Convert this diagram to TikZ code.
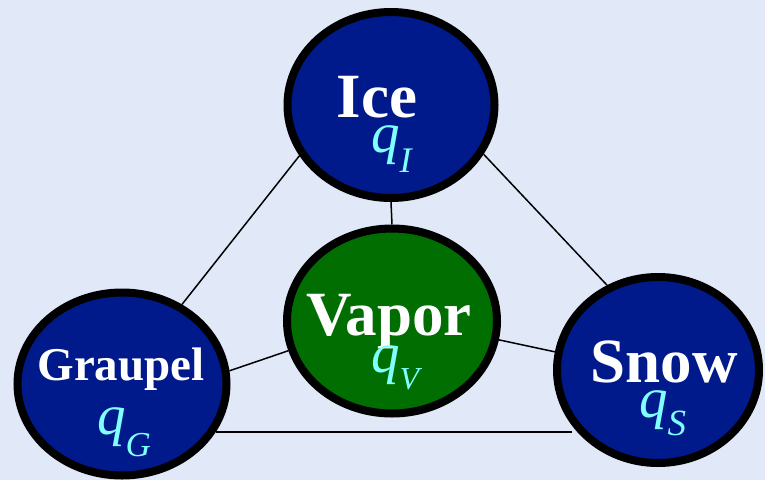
\documentclass[tikz,border=0pt]{standalone}
\usepackage{fontspec}
\setmainfont{Liberation Serif}
\usetikzlibrary{shapes.geometric}
\definecolor{bg}{HTML}{E1E9F8}
\definecolor{dblue}{HTML}{001A8C}
\definecolor{dgreen}{HTML}{006E00}
\definecolor{qcyan}{HTML}{80FFFF}
\tikzset{
  blob/.style={ellipse, draw=black, line width=8pt, inner sep=0pt},
  bluebl/.style={blob, fill=dblue},
  greenbl/.style={blob, fill=dgreen},
  conn/.style={draw=black, line width=1.5pt},
  nametxt/.style={text=white, font=\fontsize{63}{63}\selectfont\bfseries, inner sep=0pt, anchor=base},
  qlab/.style={text=qcyan, inner sep=0pt, anchor=base west},
}
% #1 subscript, #2 subscript size, #3 drop
\newcommand{\qvar}[3]{{\fontsize{57}{57}\selectfont\itshape q}\raisebox{-#3pt}{\fontsize{#2}{#2}\selectfont\itshape #1}}
\begin{document}
\begin{tikzpicture}[x=1pt,y=-1pt]
\fill[bg] (0,0) rectangle (765,480);
\useasboundingbox (0,0) rectangle (765,480);
\node[bluebl, minimum width=207pt, minimum height=186pt] (ice) at (391,105) {};
\node[greenbl, minimum width=210pt, minimum height=185pt] (vapor) at (392,321) {};
\node[bluebl, minimum width=209pt, minimum height=183pt] (graupel) at (122,384) {};
\node[bluebl, minimum width=202pt, minimum height=186pt] (snow) at (658,370) {};
\draw[conn] (ice.209) -- (graupel.53);
\draw[conn] (ice.332) -- (snow.121);
\draw[conn] (ice.270) -- (vapor.90);
\draw[conn] (vapor.196) -- (graupel.7);
\draw[conn] (vapor.350) -- (snow.170);
\draw[conn] (graupel.333) -- (graupel.333 -| snow.213);
\node[nametxt] (icet) at (377,117) {Ice};
\node[nametxt] (vapt) at (389,335) {Vapor};
\node[nametxt] (snowt) at (664,382) {Snow};
\node[nametxt, font=\fontsize{47}{47}\selectfont\bfseries] (grat) at (121,380) {Graupel};
\node[qlab] (qi) at (371,152) {\qvar{I}{36}{20}};
\node[qlab] (qv) at (371,372) {\qvar{V}{32}{17}};
\node[qlab] (qs) at (639,417) {\qvar{S}{37}{18}};
\node[qlab] (qg) at (97,434) {\qvar{G}{35}{22}};
\end{tikzpicture}
\end{document}
